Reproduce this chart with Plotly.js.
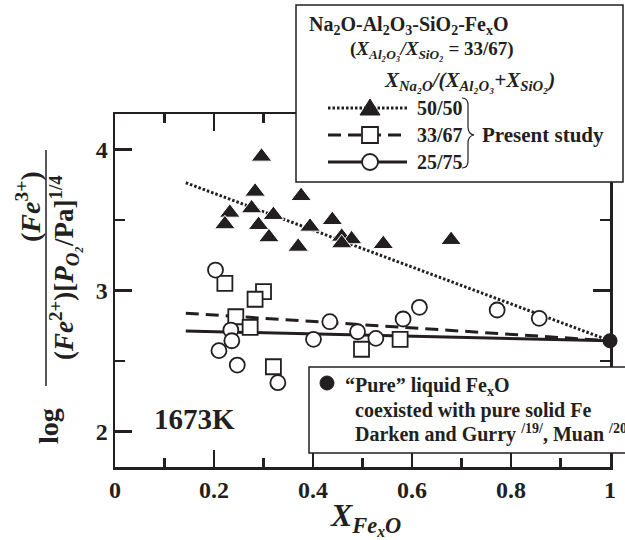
<!DOCTYPE html>
<html><head><meta charset="utf-8">
<script src="https://cdn.plot.ly/plotly-3.0.1.min.js"></script>
<style>body{margin:0;background:#fff}</style>
</head><body><div id="chart" style="width:625px;height:540px"></div>
<script>
// ---- data ----
const triX = [0.296,0.283,0.376,0.232,0.276,0.320,0.222,0.290,0.311,0.394,0.439,0.458,0.478,0.458,0.370,0.542,0.679];
const triY = [3.948,3.700,3.669,3.551,3.582,3.535,3.469,3.464,3.377,3.452,3.499,3.381,3.363,3.334,3.310,3.329,3.358];
const sqX = [0.222,0.300,0.283,0.244,0.273,0.320,0.498,0.576];
const sqY = [3.051,2.992,2.938,2.814,2.739,2.460,2.584,2.654];
const ciX = [0.203,0.234,0.236,0.210,0.247,0.329,0.401,0.434,0.490,0.527,0.582,0.615,0.772,0.857];
const ciY = [3.145,2.720,2.644,2.574,2.472,2.347,2.654,2.779,2.708,2.661,2.798,2.881,2.862,2.803];
const pureX = [1.0];
const pureY = [2.644];
const fitX = [0.143, 1.0];
const fit5050 = [3.763, 2.644];
const fit3367 = [2.839, 2.644];
const fit2575 = [2.713, 2.644];
const xTickVals = [0, 0.2, 0.4, 0.6, 0.8, 1];
const xTickText = ['0', '0.2', '0.4', '0.6', '0.8', '1'];
const yTickVals = [2, 3, 4];
const yTickText = ['2', '3', '4'];

// ---- geometry helpers (pixel -> paper) ----
const L = 115, R = 15, T = 114, B = 73, W = 625, H = 540;
const PW = W - L - R, PH = H - T - B;
const px = v => (v - L) / PW;
const py = v => (H - B - v) / PH;
const INK = '#231f20';
const SERIF = 'Liberation Serif, Times New Roman, serif';

const traces = [
  {x: fitX, y: fit5050, mode: 'lines', line: {color: INK, width: 3, dash: '2.5px,2px'}, hoverinfo: 'skip'},
  {x: fitX, y: fit3367, mode: 'lines', line: {color: INK, width: 3, dash: '13px,7px'}, hoverinfo: 'skip'},
  {x: fitX, y: fit2575, mode: 'lines', line: {color: INK, width: 3}, hoverinfo: 'skip'},
  {x: triX, y: triY, mode: 'markers', marker: {symbol: 'triangle-up', size: 18, color: INK, line: {color: '#fff', width: 1}}},
  {x: sqX, y: sqY, mode: 'markers', marker: {symbol: 'square', size: 15, color: '#fff', line: {color: INK, width: 1.8}}},
  {x: ciX, y: ciY, mode: 'markers', marker: {symbol: 'circle', size: 15, color: '#fff', line: {color: INK, width: 1.8}}},
  {x: pureX, y: pureY, mode: 'markers', marker: {symbol: 'circle', size: 15, color: INK}, cliponaxis: false}
];

const axisCommon = {
  showgrid: false, zeroline: false, showline: true, linecolor: INK, linewidth: 2.5,
  mirror: 'allticks', ticks: 'inside', ticklen: 17, tickwidth: 2.5, tickcolor: INK,
  tickfont: {family: SERIF, size: 24, color: INK, weight: 'bold'}, tickmode: 'array'
};

function txt(xp, yp, text, size, opts) {
  return Object.assign({xref: 'paper', yref: 'paper', x: px(xp), y: py(yp), text: text, showarrow: false,
    xanchor: 'left', yanchor: 'middle', font: {family: SERIF, size: size, color: INK, weight: 'bold'}}, opts || {});
}

const annotations = [
  txt(307, 25, 'Na<sub>2</sub>O-Al<sub>2</sub>O<sub>3</sub>-SiO<sub>2</sub>-Fe<sub>x</sub>O', 20),
  txt(432, 50, '(<i>X</i><sub><i>Al\u2082O\u2083</i></sub><i>/X</i><sub><i>SiO\u2082</i></sub> = 33/67)', 19, {xanchor: 'center'}),
  txt(382, 81, '<i>X</i><sub><i>Na\u2082O</i></sub><i>/(X</i><sub><i>Al\u2082O\u2083</i></sub><i>+X</i><sub><i>SiO\u2082</i></sub><i>)</i>', 21),
  txt(415, 108, '50/50', 20),
  txt(415, 135, '33/67', 20),
  txt(415, 162, '25/75', 20),
  txt(480, 135, 'Present study', 21),
  txt(343, 386, '\u201cPure\u201d liquid Fe<sub>x</sub>O', 20),
  txt(353, 410, 'coexisted with pure solid Fe', 20),
  txt(353, 433, 'Darken and Gurry <sup>/19/</sup>, Muan <sup>/20/</sup>', 20),
  txt(194, 419, '1673K', 29, {xanchor: 'center'}),
  txt(365, 518, '<i>X</i><sub><i>Fe<sub>x</sub>O</i></sub>', 32, {xanchor: 'center'}),
  txt(48, 426, 'log', 28, {xanchor: 'center', textangle: -90}),
  txt(28, 207, '(<i>Fe</i><sup>3+</sup>)', 28, {xanchor: 'center', textangle: -90}),
  txt(64, 268, '(<i>Fe</i><sup>2+</sup>)[<i>P</i><sub><i>O\u2082</i></sub>/Pa]<sup>1/4</sup>', 27, {xanchor: 'center', textangle: -90})
];

function rectPx(x0, y0, x1, y1, o) {
  return Object.assign({type: 'rect', xref: 'paper', yref: 'paper', layer: 'above',
    x0: px(x0), x1: px(x1), y0: py(y0), y1: py(y1)}, o);
}
function linePx(x0, y0, x1, y1, o) {
  return Object.assign({type: 'line', xref: 'paper', yref: 'paper', layer: 'above',
    x0: px(x0), x1: px(x1), y0: py(y0), y1: py(y1)}, o);
}
function pathPx(pts, o) {
  const d = pts.map(p => typeof p === 'string' ? p : px(p[0]) + ',' + py(p[1])).join(' ');
  return Object.assign({type: 'path', xref: 'paper', yref: 'paper', layer: 'above', path: d}, o);
}

const mx = 370;
const shapes = [
  rectPx(296, 5, 623, 182, {fillcolor: '#fff', line: {color: INK, width: 1.5}}),
  rectPx(309, 367, 628, 453, {fillcolor: '#fff', line: {color: INK, width: 1.5}}),
  linePx(328, 108, 407, 108, {line: {color: INK, width: 3, dash: '2.5px,2px'}}),
  linePx(328, 135, 407, 135, {line: {color: INK, width: 3, dash: '13px,7px'}}),
  linePx(328, 162, 407, 162, {line: {color: INK, width: 3}}),
  pathPx(['M', [mx - 10, 115], 'L', [mx + 10, 115], 'L', [mx, 99], 'Z'], {fillcolor: INK, line: {color: INK, width: 1}}),
  rectPx(mx - 8, 127, mx + 8, 143, {fillcolor: '#fff', line: {color: INK, width: 1.8}}),
  Object.assign({type: 'circle', xref: 'paper', yref: 'paper', layer: 'above', x0: px(mx - 8), x1: px(mx + 8), y0: py(154), y1: py(170), fillcolor: '#fff', line: {color: INK, width: 1.8}}),
  pathPx(['M', [462, 98], 'Q', [468, 98], [468, 105], 'L', [468, 127], 'Q', [468, 134], [474, 135], 'Q', [468, 136], [468, 143], 'L', [468, 161], 'Q', [468, 168], [462, 168]], {line: {color: INK, width: 1.2}}),
  Object.assign({type: 'circle', xref: 'paper', yref: 'paper', layer: 'above', x0: px(320), x1: px(334), y0: py(376), y1: py(390), fillcolor: INK, line: {color: INK, width: 1}}),
  linePx(46, 150, 46, 386, {line: {color: INK, width: 1.5}})
];

const layout = {
  width: W, height: H, margin: {l: L, r: R, t: T, b: B}, showlegend: false,
  paper_bgcolor: '#fff', plot_bgcolor: '#fff',
  xaxis: Object.assign({}, axisCommon, {range: [0, 1], tickvals: xTickVals, ticktext: xTickText,
    minor: {tickvals: [0.1, 0.3, 0.5, 0.7, 0.9], ticks: 'inside', ticklen: 9, tickwidth: 2.5, tickcolor: INK}}),
  yaxis: Object.assign({}, axisCommon, {range: [1.75, 4.25], tickvals: yTickVals, ticktext: yTickText,
    minor: {tickvals: [2.5, 3.5], ticks: 'inside', ticklen: 10, tickwidth: 2.5, tickcolor: INK}}),
  annotations: annotations, shapes: shapes
};

Plotly.newPlot('chart', traces, layout, {displayModeBar: false, staticPlot: true});
</script></body></html>
